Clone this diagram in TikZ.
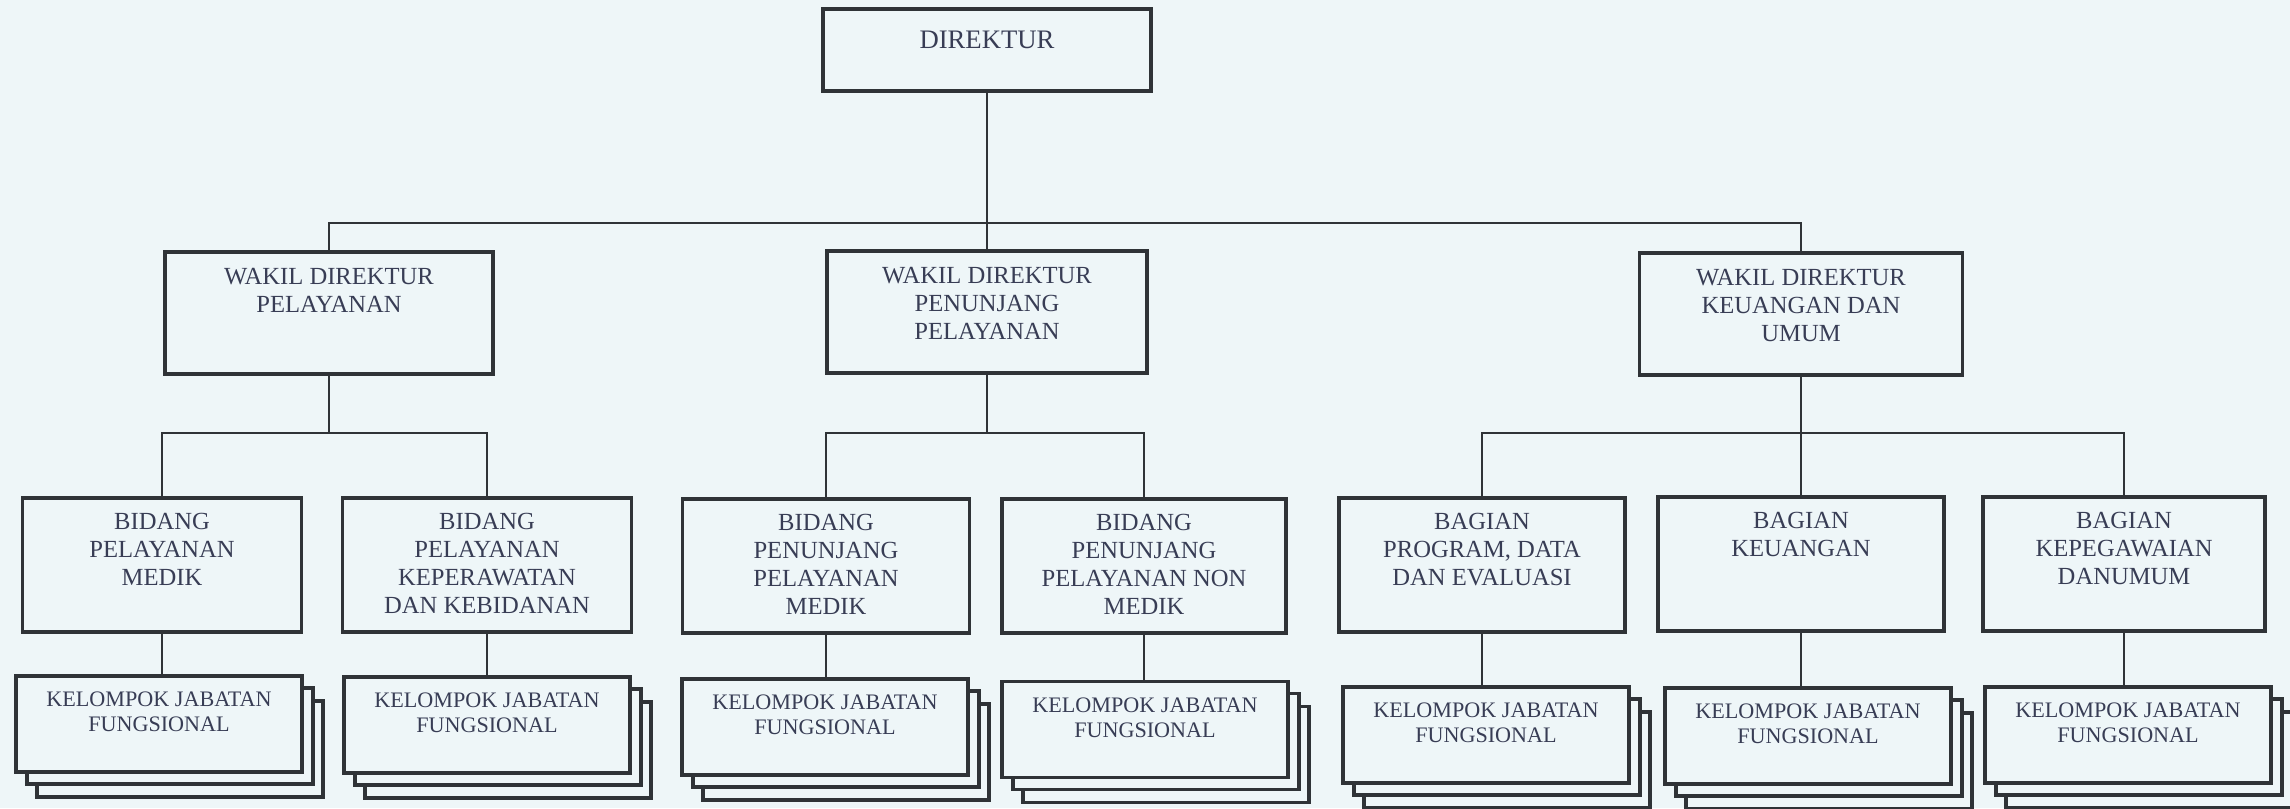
\documentclass[tikz,border=0pt]{standalone}
\usepackage{fontspec}
\setmainfont{Liberation Serif}
\usetikzlibrary{calc}
\definecolor{bg}{HTML}{EEF6F8}
\definecolor{ink}{HTML}{383D55}
\definecolor{linec}{HTML}{2F3337}
\begin{document}
\begin{tikzpicture}[
  boxbase/.style={draw=linec, line width=1.05pt, fill=bg, rectangle, inner sep=0pt},
  dbox/.style={boxbase, minimum width=3.28cm, minimum height=0.82cm},
  wbox/.style={boxbase, minimum width=3.24cm, minimum height=1.22cm},
  bbox/.style={boxbase, minimum width=2.86cm, minimum height=1.34cm},
  kbox/.style={boxbase, minimum width=2.86cm, minimum height=0.96cm},
  conn/.style={draw=linec, line width=0.8pt},
  lbl/.style={anchor=north, align=center, inner sep=0pt, text=ink},
  dtxt/.style={lbl, font=\fontsize{7.6}{8.2}\selectfont},
  wtxt/.style={lbl, font=\fontsize{7}{8}\selectfont},
  ktxt/.style={lbl, font=\fontsize{6.3}{7.2}\selectfont},
]
\useasboundingbox (0,0) rectangle (22.90,-8.08);
\fill[bg] (0,0) rectangle (22.90,-8.08);

% bus levels
\coordinate (busA) at (0,-2.23);
\coordinate (busB) at (0,-4.33);

% level 1
\node[dbox] (D) at (9.87,-0.50) {};
\node[dtxt] (tD) at ($(D.north)+(0,-0.23)$) {DIREKTUR};

% level 2
\node[wbox, minimum width=3.28cm] (W1) at (3.29,-3.13) {};
\node[wbox, minimum width=3.20cm] (W2) at (9.87,-3.12) {};
\node[wbox, minimum width=3.23cm] (W3) at (18.01,-3.14) {};
\node[wtxt] (tW1) at ($(W1.north)+(0,-0.17)$) {WAKIL DIREKTUR\\PELAYANAN};
\node[wtxt] (tW2) at ($(W2.north)+(0,-0.17)$) {WAKIL DIREKTUR\\PENUNJANG\\PELAYANAN};
\node[wtxt] (tW3) at ($(W3.north)+(0,-0.17)$) {WAKIL DIREKTUR\\KEUANGAN DAN\\UMUM};

% level 3
\node[bbox, minimum width=2.79cm] (B1) at (1.62,-5.65) {};
\node[bbox, minimum width=2.89cm] (B2) at (4.87,-5.65) {};
\node[bbox, minimum width=2.87cm] (B3) at (8.26,-5.66) {};
\node[bbox, minimum width=2.84cm] (B4) at (11.44,-5.66) {};
\node[bbox, minimum width=2.86cm] (B5) at (14.82,-5.65) {};
\node[bbox, minimum width=2.86cm] (B6) at (18.01,-5.64) {};
\node[bbox, minimum width=2.82cm] (B7) at (21.24,-5.64) {};
\node[wtxt] (tB1) at ($(B1.north)+(0,-0.16)$) {BIDANG\\PELAYANAN\\MEDIK};
\node[wtxt] (tB2) at ($(B2.north)+(0,-0.16)$) {BIDANG\\PELAYANAN\\KEPERAWATAN\\DAN KEBIDANAN};
\node[wtxt] (tB3) at ($(B3.north)+(0,-0.16)$) {BIDANG\\PENUNJANG\\PELAYANAN\\MEDIK};
\node[wtxt] (tB4) at ($(B4.north)+(0,-0.16)$) {BIDANG\\PENUNJANG\\PELAYANAN NON\\MEDIK};
\node[wtxt] (tB5) at ($(B5.north)+(0,-0.16)$) {BAGIAN\\PROGRAM, DATA\\DAN EVALUASI};
\node[wtxt] (tB6) at ($(B6.north)+(0,-0.16)$) {BAGIAN\\KEUANGAN};
\node[wtxt] (tB7) at ($(B7.north)+(0,-0.16)$) {BAGIAN\\KEPEGAWAIAN\\DANUMUM};

% level 4: stacked boxes (back layers first)
\foreach \n/\x/\y in {1/1.59/-7.24, 2/4.87/-7.25, 3/8.25/-7.27, 4/11.45/-7.295, 5/14.86/-7.35, 6/18.08/-7.36, 7/21.28/-7.35}{
  \node[kbox] (K\n c) at (\x+0.21,\y-0.25) {};
  \node[kbox] (K\n b) at (\x+0.11,\y-0.12) {};
  \node[kbox] (K\n) at (\x,\y) {};
  \node[ktxt] (tK\n) at ($(K\n.north)+(0,-0.17)$) {KELOMPOK JABATAN\\FUNGSIONAL};
}

% connectors
\draw[conn] (D.south) -- (W2.north);
\draw[conn] (W1.north) -- (W1.north |- busA) -- (W3.north |- busA) -- (W3.north);

\draw[conn] (W1.south) -- (W1.south |- busB);
\draw[conn] (B1.north) -- (B1.north |- busB) -- (B2.north |- busB) -- (B2.north);

\draw[conn] (W2.south) -- (W2.south |- busB);
\draw[conn] (B3.north) -- (B3.north |- busB) -- (B4.north |- busB) -- (B4.north);

\draw[conn] (W3.south) -- (B6.north);
\draw[conn] (B5.north) -- (B5.north |- busB) -- (B7.north |- busB) -- (B7.north);

\foreach \n in {1,...,7}{
  \draw[conn] (B\n.south) -- (B\n.south |- K\n.north);
}
\end{tikzpicture}
\end{document}
